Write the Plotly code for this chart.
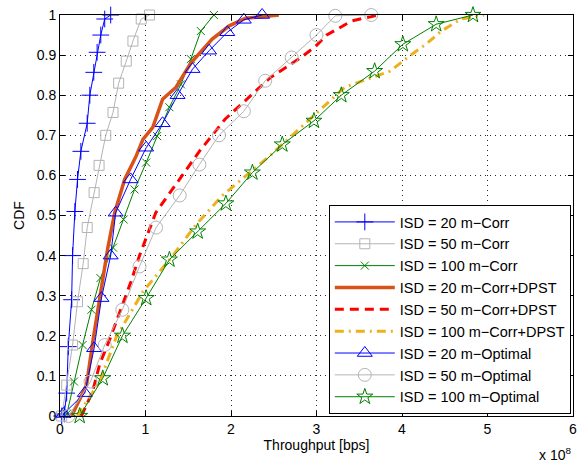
import plotly.graph_objects as go

# ---- data (throughput in units of 1e8 bps, CDF) ----
c20_x = [0.02, 0.05, 0.078, 0.097, 0.136, 0.147, 0.174, 0.205, 0.244, 0.318, 0.349, 0.395, 0.434, 0.477, 0.523, 0.593]
c20_y = [0.0, 0.005, 0.057, 0.173, 0.29, 0.40, 0.51, 0.59, 0.66, 0.73, 0.80, 0.857, 0.907, 0.95, 0.99, 1.0]

c50_x = [0.02, 0.078, 0.147, 0.205, 0.271, 0.318, 0.399, 0.457, 0.535, 0.62, 0.686, 0.775, 0.853, 0.95, 1.047]
c50_y = [0.0, 0.077, 0.177, 0.285, 0.38, 0.47, 0.557, 0.625, 0.70, 0.757, 0.83, 0.885, 0.935, 0.99, 1.0]

c100_x = [0.08, 0.163, 0.264, 0.368, 0.473, 0.62, 0.744, 0.872, 1.008, 1.136, 1.279, 1.415, 1.53, 1.647, 1.80]
c100_y = [0.005, 0.086, 0.177, 0.265, 0.344, 0.42, 0.49, 0.565, 0.632, 0.698, 0.77, 0.827, 0.89, 0.96, 1.0]

d20_x = [0.136, 0.31, 0.387, 0.465, 0.56, 0.64, 0.756, 0.89, 0.97, 1.085, 1.2, 1.357, 1.53, 1.78, 1.98, 2.17, 2.56]
d20_y = [0.0, 0.077, 0.19, 0.298, 0.42, 0.507, 0.59, 0.648, 0.69, 0.72, 0.79, 0.82, 0.88, 0.94, 0.973, 0.992, 1.0]

d50_x = [0.25, 0.38, 0.465, 0.58, 0.83, 0.93, 1.12, 1.40, 1.63, 1.93, 2.19, 2.46, 2.79, 2.98, 3.12, 3.41, 3.72]
d50_y = [0.0, 0.06, 0.13, 0.19, 0.335, 0.40, 0.507, 0.59, 0.66, 0.74, 0.79, 0.844, 0.89, 0.92, 0.95, 0.985, 1.0]

d100_x = [0.2, 0.27, 0.465, 0.66, 0.97, 1.32, 1.59, 1.90, 2.46, 2.87, 3.33, 3.86, 4.07, 4.28, 4.46, 4.69, 4.96]
d100_y = [0.0, 0.023, 0.086, 0.198, 0.31, 0.40, 0.477, 0.55, 0.65, 0.73, 0.82, 0.86, 0.895, 0.927, 0.96, 0.99, 1.0]

o20_x = [0.04, 0.29, 0.399, 0.485, 0.593, 0.651, 0.826, 1.008, 1.2, 1.375, 1.55, 1.744, 1.957, 2.15, 2.364]
o20_y = [0.005, 0.057, 0.169, 0.294, 0.40, 0.507, 0.59, 0.669, 0.73, 0.80, 0.865, 0.911, 0.957, 0.988, 1.0]

o50_x = [0.1, 0.357, 0.523, 0.729, 0.93, 1.124, 1.40, 1.63, 1.86, 2.15, 2.40, 2.71, 3.0, 3.22, 3.64]
o50_y = [0.0, 0.086, 0.177, 0.265, 0.373, 0.47, 0.55, 0.627, 0.70, 0.76, 0.836, 0.894, 0.95, 0.998, 1.0]

o100_x = [0.23, 0.50, 0.73, 1.008, 1.28, 1.61, 1.94, 2.25, 2.60, 2.97, 3.29, 3.68, 4.01, 4.40, 4.83]
o100_y = [0.0, 0.094, 0.20, 0.294, 0.39, 0.46, 0.53, 0.607, 0.677, 0.736, 0.80, 0.86, 0.927, 0.977, 1.0]

x_ticks = [0, 1, 2, 3, 4, 5, 6]
y_ticks = [0, 0.1, 0.2, 0.3, 0.4, 0.5, 0.6, 0.7, 0.8, 0.9, 1]
y_tick_labels = ["0", "0.1", "0.2", "0.3", "0.4", "0.5", "0.6", "0.7", "0.8", "0.9", "1"]

BLUE = "#0000ff"
GRAY = "#b4b4b4"
GREEN = "#008000"
ORANGE = "#d95319"
RED = "#ff0000"
GOLD = "#edb120"
FONT = "Liberation Sans, Arial"

fig = go.Figure()

def add(x, y, name, color, width, dash="solid", symbol=None, size=10):
    kw = dict(x=x, y=y, name=name, cliponaxis=False,
              line=dict(color=color, width=width, dash=dash))
    if symbol:
        kw["mode"] = "lines+markers"
        kw["marker"] = dict(symbol=symbol, size=size, color=color,
                            line=dict(color=color, width=1))
    else:
        kw["mode"] = "lines"
    fig.add_trace(go.Scatter(**kw))

add(c20_x, c20_y, "ISD = 20 m\u2212Corr", BLUE, 1, symbol="cross-thin", size=12)
add(c50_x, c50_y, "ISD = 50 m\u2212Corr", GRAY, 1, symbol="square-open", size=10)
add(c100_x, c100_y, "ISD = 100 m\u2212Corr", GREEN, 1, symbol="x-thin", size=8)
add(d20_x, d20_y, "ISD = 20 m\u2212Corr+DPST", ORANGE, 3.5)
add(d50_x, d50_y, "ISD = 50 m\u2212Corr+DPST", RED, 3, dash="9px,6px")
add(d100_x, d100_y, "ISD = 100 m\u2212Corr+DPST", GOLD, 3, dash="9px,5px,2px,5px")
add(o20_x, o20_y, "ISD = 20 m\u2212Optimal", BLUE, 1, symbol="triangle-up-open", size=13)
add(o50_x, o50_y, "ISD = 50 m\u2212Optimal", GRAY, 1, symbol="circle-open", size=13)
add(o100_x, o100_y, "ISD = 100 m\u2212Optimal", GREEN, 1, symbol="star-open", size=12)

axis_common = dict(showline=True, linecolor="black", linewidth=1, mirror="allticks",
                   ticks="inside", ticklen=5, tickcolor="black",
                   showgrid=True, gridcolor="rgba(0,0,0,0.85)", griddash="1px,4px", gridwidth=1,
                   zeroline=False, tickfont=dict(family=FONT, size=14, color="black"))

fig.update_xaxes(range=[0, 6], tickvals=x_ticks, ticktext=[str(v) for v in x_ticks],
                 title=dict(text="Throughput [bps]", standoff=2,
                            font=dict(family=FONT, size=14, color="black")),
                 **axis_common)
fig.update_yaxes(range=[0, 1], tickvals=y_ticks, ticktext=y_tick_labels,
                 title=dict(text="CDF", standoff=8,
                            font=dict(family=FONT, size=14, color="black")),
                 **axis_common)

fig.add_annotation(x=1.0, y=-0.068, xref="paper", yref="paper", xanchor="right", yanchor="top",
                   text="x 10<sup>8</sup>", showarrow=False,
                   font=dict(family=FONT, size=14, color="black"))

fig.update_layout(
    width=584, height=463,
    margin=dict(l=60, r=7, t=15, b=47),
    paper_bgcolor="white", plot_bgcolor="white",
    font=dict(family=FONT, color="black"),
    legend=dict(x=0.524, y=0.005, xanchor="left", yanchor="bottom",
                bgcolor="white", bordercolor="black", borderwidth=1,
                font=dict(family=FONT, size=14.5, color="black"),
                itemwidth=60, tracegroupgap=0),
    showlegend=True,
)

fig.write_html("out.html")
